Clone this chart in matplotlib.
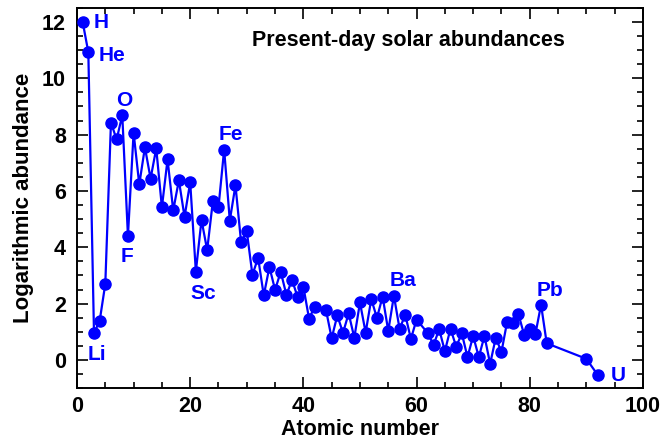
import matplotlib
matplotlib.use("Agg")
import matplotlib.pyplot as plt
from matplotlib.ticker import MultipleLocator

plt.rcParams['font.family'] = ['Liberation Sans', 'DejaVu Sans']

Z = [1, 2, 3, 4, 5, 6, 7, 8, 9, 10,
     11, 12, 13, 14, 15, 16, 17, 18, 19, 20,
     21, 22, 23, 24, 25, 26, 27, 28, 29, 30,
     31, 32, 33, 34, 35, 36, 37, 38, 39, 40,
     41, 42, 44, 45, 46, 47, 48, 49, 50,
     51, 52, 53, 54, 55, 56, 57, 58, 59, 60,
     62, 63, 64, 65, 66, 67, 68, 69, 70,
     71, 72, 73, 74, 75, 76, 77, 78, 79, 80,
     81, 82, 83, 90, 92]
abund = [12.00, 10.93, 0.96, 1.38, 2.70, 8.43, 7.83, 8.69, 4.40, 8.07,
         6.23, 7.55, 6.44, 7.51, 5.42, 7.12, 5.31, 6.38, 5.08, 6.31,
         3.14, 4.97, 3.90, 5.63, 5.42, 7.47, 4.95, 6.20, 4.17, 4.57,
         3.02, 3.63, 2.29, 3.30, 2.49, 3.13, 2.31, 2.84, 2.22, 2.60,
         1.47, 1.88, 1.77, 0.77, 1.58, 0.96, 1.65, 0.79, 2.04,
         0.97, 2.16, 1.49, 2.25, 1.03, 2.28, 1.10, 1.60, 0.75, 1.43,
         0.95, 0.53, 1.09, 0.31, 1.11, 0.47, 0.94, 0.10, 0.85,
         0.10, 0.85, -0.14, 0.79, 0.28, 1.35, 1.32, 1.63, 0.90, 1.11,
         0.92, 1.96, 0.59, 0.04, -0.53]

label_names = ['H', 'He', 'Li', 'O', 'F', 'Sc', 'Fe', 'Ba', 'Pb', 'U']
label_x = [4.3, 6.2, 3.5, 8.3, 8.8, 22.3, 27.2, 57.6, 83.6, 95.6]
label_y = [12.0, 10.82, 0.21, 9.22, 3.67, 2.35, 8.01, 2.81, 2.46, -0.57]

fig = plt.figure(figsize=(6.65, 4.41), dpi=100)
ax = fig.add_axes([0.1158, 0.120, 0.851, 0.862])

blue = '#0000ff'
ax.plot(Z, abund, '-o', color=blue, lw=1.6, markersize=8, clip_on=False, zorder=3)

for n, x, y in zip(label_names, label_x, label_y):
    ax.text(x, y, n, color=blue, fontsize=15, fontweight='bold', ha='center', va='center')

ax.text(0.585, 0.915, 'Present-day solar abundances', transform=ax.transAxes,
        fontsize=15.5, fontweight='bold', ha='center', va='center', color='black')

ax.set_xlim(0, 100)
ax.set_ylim(-1, 12.5)
ax.xaxis.set_major_locator(MultipleLocator(20))
ax.xaxis.set_minor_locator(MultipleLocator(5))
ax.yaxis.set_major_locator(MultipleLocator(2))
ax.yaxis.set_minor_locator(MultipleLocator(0.5))
ax.tick_params(which='both', direction='in', top=True, right=True, width=1.2)
ax.tick_params(which='major', length=8, labelsize=15.5)
ax.tick_params(axis='y', which='major', pad=8)
ax.tick_params(axis='x', which='major', pad=6)
ax.tick_params(which='minor', length=4)
for lbl in ax.get_xticklabels() + ax.get_yticklabels():
    lbl.set_fontweight('bold')
for s in ax.spines.values():
    s.set_linewidth(1.4)

ax.set_xlabel('Atomic number', fontsize=15.5, fontweight='bold', labelpad=1)
ax.set_ylabel('Logarithmic abundance', fontsize=16, fontweight='bold', labelpad=6)

fig.savefig('out.png', dpi=100)
